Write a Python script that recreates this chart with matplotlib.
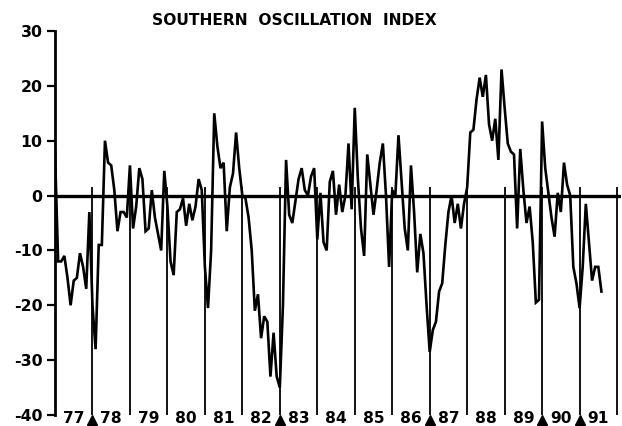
import matplotlib
matplotlib.use("Agg")
import matplotlib.pyplot as plt
import numpy as np

# Monthly Southern Oscillation Index values
soi_1977 = [8, -12, -12, -11, -15, -20, -15.5, -15, -10.5, -13, -17, -3]
soi_1978 = [-20, -28, -9, -9, 10, 6, 5.5, 1, -6.5, -3, -3, -4]
soi_1979 = [5.5, -6, -2, 5, 3, -6.5, -6, 1, -4, -7, -10, 4.5]
soi_1980 = [-2, -12, -14.5, -3, -2.5, -0.5, -5.5, -1.5, -4.5, -2, 3, 1]
soi_1981 = [-13, -20.5, -10, 15, 9, 5, 6, -6.5, 1.5, 4, 11.5, 5]
soi_1982 = [0, -0.5, -4, -10, -21, -18, -26, -22, -23, -33, -25, -33]
soi_1983 = [-35, -20, 6.5, -3.5, -5, -1, 3, 5, 1, 0, 3.5, 5]
soi_1984 = [-8, 0.5, -8.5, -10, 2.5, 4.5, -3.5, 2, -3, 0, 9.5, -2.5]
soi_1985 = [16, 3, -6, -11, 7.5, 2, -3.5, 1, 6, 9.5, 0, -13]
soi_1986 = [1, 0, 11, 2.5, -6, -10, 5.5, -3, -14, -7, -10.5, -20]
soi_1987 = [-28.5, -24.5, -23, -17.5, -16, -9, -3, 0, -5, -1.5, -6, -1.5]
soi_1988 = [1.5, 11.5, 12, 17.5, 21.5, 18, 22, 13, 10, 14, 6.5, 23]
soi_1989 = [16, 9.5, 8, 7.5, -6, 8.5, 1, -5, -2, -8.5, -19.5, -19]
soi_1990 = [13.5, 5, 0.5, -4, -7.5, 0.5, -3, 6, 2, 0, -13, -16]
soi_1991 = [-20.5, -13, -1.5, -8.5, -15.5, -13, -13, -17.5]

year_labels = ["77", "78", "79", "80", "81", "82", "83", "84", "85", "86",
               "87", "88", "89", "90", "91"]
first_year = 1977
el_nino_marks = [1978, 1983, 1987, 1990, 1991]
y_ticks = [30, 20, 10, 0, -10, -20, -30, -40]

soi = np.array(soi_1977 + soi_1978 + soi_1979 + soi_1980 + soi_1981 + soi_1982 +
               soi_1983 + soi_1984 + soi_1985 + soi_1986 + soi_1987 + soi_1988 +
               soi_1989 + soi_1990 + soi_1991, dtype=float)
t = first_year + np.arange(len(soi)) / 12.0

fig = plt.figure(figsize=(6.22, 4.26), dpi=100)
ax = fig.add_axes([55 / 622, 11 / 426, 566 / 622, 384 / 426])
ax.set_xlim(1977, 1977 + 566 / 37.47)
ax.set_ylim(-40, 30)

# zero line
ax.plot([1977, 1992.12], [0, 0], color="black", lw=2.4, solid_capstyle="butt", zorder=3)

# year boundary lines
boundaries = np.arange(first_year + 1, first_year + len(year_labels) + 1)
ax.vlines(boundaries, -40, 1.5, color="black", lw=1.3, zorder=2)

# data
ax.plot(t, soi, color="black", lw=1.9, solid_joinstyle="miter", zorder=4)

# year labels
for k, lab in enumerate(year_labels):
    ax.text(first_year + k + 0.5, -40.7, lab, ha="center", va="center",
            fontsize=11.2, fontweight="bold", clip_on=False)

# El Nino triangles
ax.plot(el_nino_marks, [-40.9] * len(el_nino_marks), marker="^", ls="none",
        color="black", markersize=6.5, clip_on=False, zorder=5)

# axes styling
for s in ["top", "right", "bottom"]:
    ax.spines[s].set_visible(False)
ax.spines["left"].set_linewidth(2.0)
ax.set_yticks(y_ticks)
ax.set_yticklabels([str(v) for v in y_ticks])
ax.tick_params(axis="y", direction="out", length=6, width=1.6, pad=3,
               labelsize=11.3)
for lbl in ax.get_yticklabels():
    lbl.set_fontweight("bold")
ax.set_xticks([])

fig.text(0.4735, 0.952, "SOUTHERN  OSCILLATION  INDEX", ha="center", va="center",
         fontsize=11.2, fontweight="bold")

fig.savefig("out.png", dpi=100)
